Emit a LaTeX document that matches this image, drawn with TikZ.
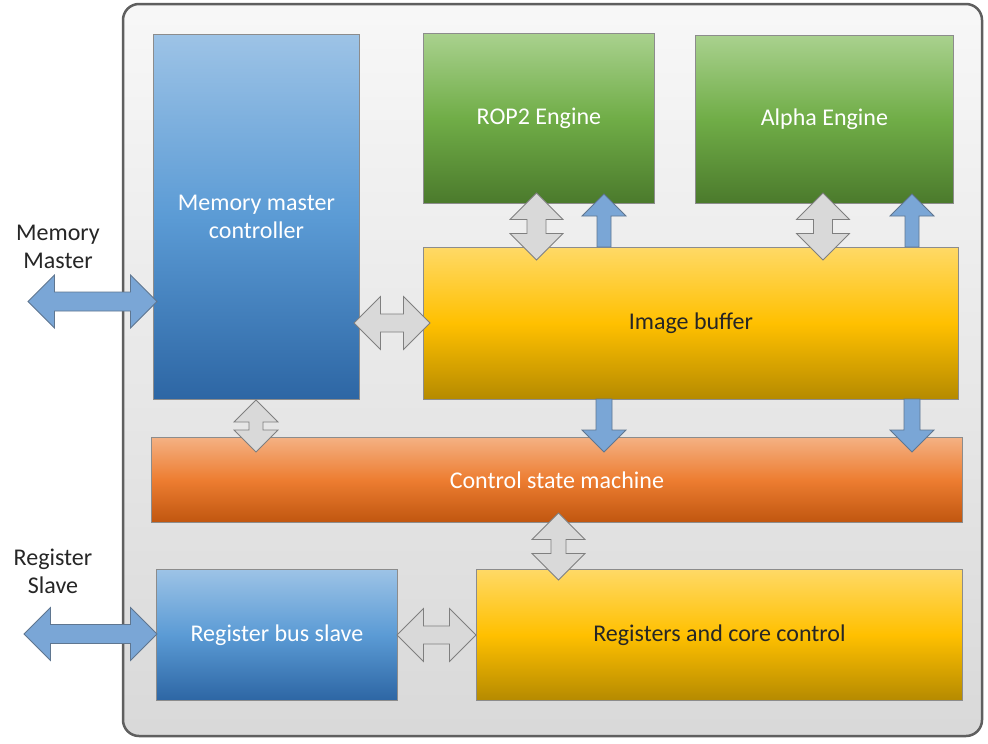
\documentclass[tikz,border=0pt]{standalone}
\usepackage{fontspec}
\setmainfont{Carlito}
\definecolor{blueT}{HTML}{9DC3E6}
\definecolor{blueM}{HTML}{5B9BD5}
\definecolor{blueB}{HTML}{2D66A4}
\definecolor{greenT}{HTML}{A9D18E}
\definecolor{greenM}{HTML}{70AD47}
\definecolor{greenB}{HTML}{4B7A2C}
\definecolor{yelT}{HTML}{FFD966}
\definecolor{yelM}{HTML}{FFC000}
\definecolor{yelB}{HTML}{B58A00}
\definecolor{orT}{HTML}{F4B183}
\definecolor{orM}{HTML}{ED7D31}
\definecolor{orB}{HTML}{C0560F}
\definecolor{arrBlue}{HTML}{7AA6D6}
\definecolor{arrBlueLine}{HTML}{5F7690}
\definecolor{arrGray}{HTML}{D9D9D9}
\definecolor{arrGrayLine}{HTML}{7F7F7F}
\definecolor{frameLine}{HTML}{5F5F5F}
\definecolor{boxLine}{HTML}{8C8C8C}
\definecolor{txtDark}{HTML}{262626}
\newcommand{\hdarrow}[6]{% style, x1, x2, y, shaft half, head half
  \draw[#1] (#2,#4) -- (#2+#6,#4-#6) -- (#2+#6,#4-#5) -- (#3-#6,#4-#5) -- (#3-#6,#4-#6) -- (#3,#4)
    -- (#3-#6,#4+#6) -- (#3-#6,#4+#5) -- (#2+#6,#4+#5) -- (#2+#6,#4+#6) -- cycle;}
\newcommand{\vdarrow}[6]{% style, x, y1, y2, shaft half, head half
  \draw[#1] (#2,#3) -- (#2+#6,#3+#6) -- (#2+#5,#3+#6) -- (#2+#5,#4-#6) -- (#2+#6,#4-#6) -- (#2,#4)
    -- (#2-#6,#4-#6) -- (#2-#5,#4-#6) -- (#2-#5,#3+#6) -- (#2-#6,#3+#6) -- cycle;}
\newcommand{\uparr}[6]{% style, x, ybase, ytip, shaft half, head half
  \draw[#1] (#2-#5,#3) -- (#2-#5,#4+#6) -- (#2-#6,#4+#6) -- (#2,#4) -- (#2+#6,#4+#6) -- (#2+#5,#4+#6) -- (#2+#5,#3) -- cycle;}
\newcommand{\downarr}[6]{% style, x, ybase, ytip, shaft half, head half
  \draw[#1] (#2-#5,#3) -- (#2-#5,#4-#6) -- (#2-#6,#4-#6) -- (#2,#4) -- (#2+#6,#4-#6) -- (#2+#5,#4-#6) -- (#2+#5,#3) -- cycle;}
\tikzset{
  box/.style={draw=boxLine, line width=0.8pt, anchor=north west, inner sep=0pt, align=center,
    font=\fontsize{24}{28}\selectfont},
  bluebox/.style={box, top color=blueT, bottom color=blueB, middle color=blueM, text=white},
  greenbox/.style={box, top color=greenT, bottom color=greenB, middle color=greenM, text=white},
  yelbox/.style={box, top color=yelT, bottom color=yelB, middle color=yelM, text=txtDark},
  orbox/.style={box, top color=orT, bottom color=orB, middle color=orM, text=white},
  blarrow/.style={fill=arrBlue, draw=arrBlueLine, line width=0.8pt, line join=miter},
  grarrow/.style={fill=arrGray, draw=arrGrayLine, line width=0.8pt, line join=miter},
  extlabel/.style={align=center, font=\fontsize{24}{28}\selectfont, text=txtDark, inner sep=0pt}
}
\begin{document}
\begin{tikzpicture}[x=1pt,y=-1pt]
\useasboundingbox (0,0) rectangle (988,744);
\fill[white] (0,0) rectangle (988,744);
% outer frame
\draw[frameLine, line width=2.5pt, rounded corners=16pt, top color=white!97!black, bottom color=white!85!black]
  (123,4) rectangle (982,736);
% boxes
\node[bluebox, minimum width=206pt, minimum height=365pt] (mmc) at (153,34) {Memory master\\controller};
\node[greenbox, minimum width=231pt, minimum height=170pt] (rop) at (423,33) {ROP2 Engine};
\node[greenbox, minimum width=258pt, minimum height=168pt] (alpha) at (695,35) {Alpha Engine};
\node[yelbox, minimum width=535pt, minimum height=152pt] (ib) at (423,247) {Image buffer};
\node[orbox, minimum width=811pt, minimum height=85pt] (csm) at (151,437) {Control state machine};
\node[bluebox, minimum width=241pt, minimum height=131pt] (rbs) at (156,569) {Register bus slave};
\node[yelbox, minimum width=486pt, minimum height=131pt] (rcc) at (476,569) {Registers and core control};
% external labels
\node[extlabel] (mmlabel) at (58,247) {Memory\\Master};
\node[extlabel] (rslabel) at (53,571) {Register\\Slave};
% arrows
\hdarrow{blarrow}{28}{157}{301.5}{9.5}{26.5}
\hdarrow{blarrow}{24}{157}{634}{9.5}{26.5}
\hdarrow{grarrow}{354}{430}{323}{9}{26.5}
\hdarrow{grarrow}{397}{476}{635}{9}{26.5}
\vdarrow{grarrow}{536.5}{193}{260}{9.5}{26.5}
\vdarrow{grarrow}{823}{193}{260}{9.5}{26.5}
\vdarrow{grarrow}{256}{400}{452}{7}{22}
\vdarrow{grarrow}{558.5}{513}{580}{7.5}{26.5}
\uparr{blarrow}{604}{247}{194}{7}{22}
\uparr{blarrow}{912}{247}{194}{7}{22}
\downarr{blarrow}{604}{399}{452}{8}{22}
\downarr{blarrow}{912}{399}{452}{8}{22}
\end{tikzpicture}
\end{document}
